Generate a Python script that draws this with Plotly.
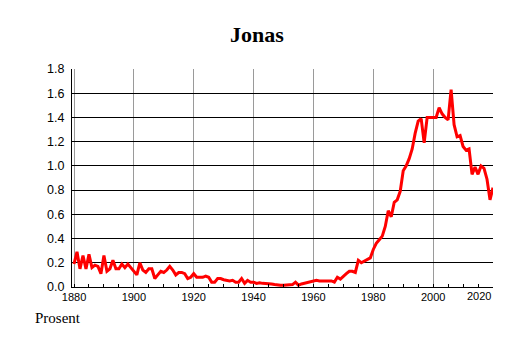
import plotly.graph_objects as go

years = list(range(1880, 2021))
values = [
    0.19, 0.29, 0.15, 0.26, 0.15, 0.27, 0.16, 0.18, 0.17, 0.11,  # 1880-1889
    0.26, 0.13, 0.15, 0.22, 0.15, 0.15, 0.19, 0.16, 0.19, 0.16,  # 1890-1899
    0.13, 0.10, 0.20, 0.14, 0.12, 0.15, 0.15, 0.07, 0.10, 0.13,  # 1900-1909
    0.12, 0.14, 0.17, 0.14, 0.10, 0.12, 0.12, 0.11, 0.07, 0.08,  # 1910-1919
    0.11, 0.08, 0.08, 0.08, 0.09, 0.08, 0.04, 0.04, 0.07, 0.07,  # 1920-1929
    0.06, 0.055, 0.05, 0.055, 0.04, 0.04, 0.07, 0.03, 0.055, 0.04,  # 1930-1939
    0.04, 0.03, 0.035, 0.03, 0.03, 0.025, 0.025, 0.02, 0.015, 0.015,  # 1940-1949
    0.015, 0.015, 0.02, 0.02, 0.04, 0.015, 0.025, 0.03, 0.035, 0.04,  # 1950-1959
    0.045, 0.055, 0.05, 0.05, 0.05, 0.05, 0.05, 0.04, 0.08, 0.065,  # 1960-1969
    0.09, 0.11, 0.13, 0.13, 0.12, 0.22, 0.20, 0.215, 0.23, 0.24,  # 1970-1979
    0.31, 0.36, 0.39, 0.42, 0.50, 0.63, 0.58, 0.70, 0.72, 0.79,  # 1980-1989
    0.96, 1.00, 1.06, 1.14, 1.27, 1.37, 1.39, 1.19, 1.40, 1.40,  # 1990-1999
    1.40, 1.40, 1.48, 1.43, 1.40, 1.38, 1.63, 1.34, 1.24, 1.25,  # 2000-2009
    1.16, 1.13, 1.14, 0.93, 0.99, 0.93, 1.00, 0.98, 0.89, 0.72,  # 2010-2019
    0.82,  # 2020
]

title_text = "Jonas"
y_label = "Prosent"
x_ticks = [1880, 1900, 1920, 1940, 1960, 1980, 2000, 2020]
x_ticktext = ["1880", "1900", "1920", "1940", "1960", "1980", "2000", ""]
last_tick_label = "2020"
y_ticks = [0.0, 0.2, 0.4, 0.6, 0.8, 1.0, 1.2, 1.4, 1.6, 1.8]
y_ticktext = [f"{v:.1f}" for v in y_ticks]

fig = go.Figure()
fig.add_trace(go.Scatter(
    x=years, y=values, mode="lines",
    line=dict(color="#ff0000", width=3),
    hoverinfo="skip", showlegend=False,
))

fig.update_layout(
    width=514, height=343,
    margin=dict(l=72, r=21, t=69, b=56),
    paper_bgcolor="white", plot_bgcolor="white",
    title=dict(text=f"<b>{title_text}</b>", x=0.5, xanchor="center",
               y=1 - 34 / 343, yanchor="middle",
               font=dict(family="Liberation Serif", size=22, color="black")),
    font=dict(family="Liberation Sans", color="black"),
    annotations=[
        dict(text=y_label, xref="paper", yref="paper",
             x=-72 / 421 + 33 / 421, y=-(318 - 287) / 217.4,
             xanchor="left", yanchor="middle", showarrow=False,
             font=dict(family="Liberation Serif", size=15, color="black")),
        dict(text=last_tick_label, xref="x", yref="paper",
             x=x_ticks[-1], y=0, xanchor="right", yanchor="top", yshift=-1,
             showarrow=False,
             font=dict(family="Liberation Sans", size=11, color="black")),
    ],
)

fig.update_xaxes(
    range=[1879.33, 2020], tickvals=x_ticks, ticktext=x_ticktext,
    showgrid=True, gridcolor="#9a9a9a", gridwidth=1,
    showline=True, linecolor="black", linewidth=1,
    ticks="inside", ticklen=3, tickcolor="black",
    minor=dict(dtick=5, tick0=1880, ticks="inside", ticklen=3, tickcolor="black", showgrid=False),
    tickfont=dict(size=11, family="Liberation Sans", color="black"),
    ticklabelstandoff=0, zeroline=False, fixedrange=True,
)
fig.update_yaxes(
    range=[0, 1.8], tickvals=y_ticks, ticktext=y_ticktext,
    showgrid=True, gridcolor="black", gridwidth=1,
    showline=True, linecolor="black", linewidth=1,
    ticks="", tickfont=dict(size=12.5, family="Liberation Sans", color="black"),
    ticklabelstandoff=4, zeroline=False, fixedrange=True,
)

fig.write_html("out.html")
